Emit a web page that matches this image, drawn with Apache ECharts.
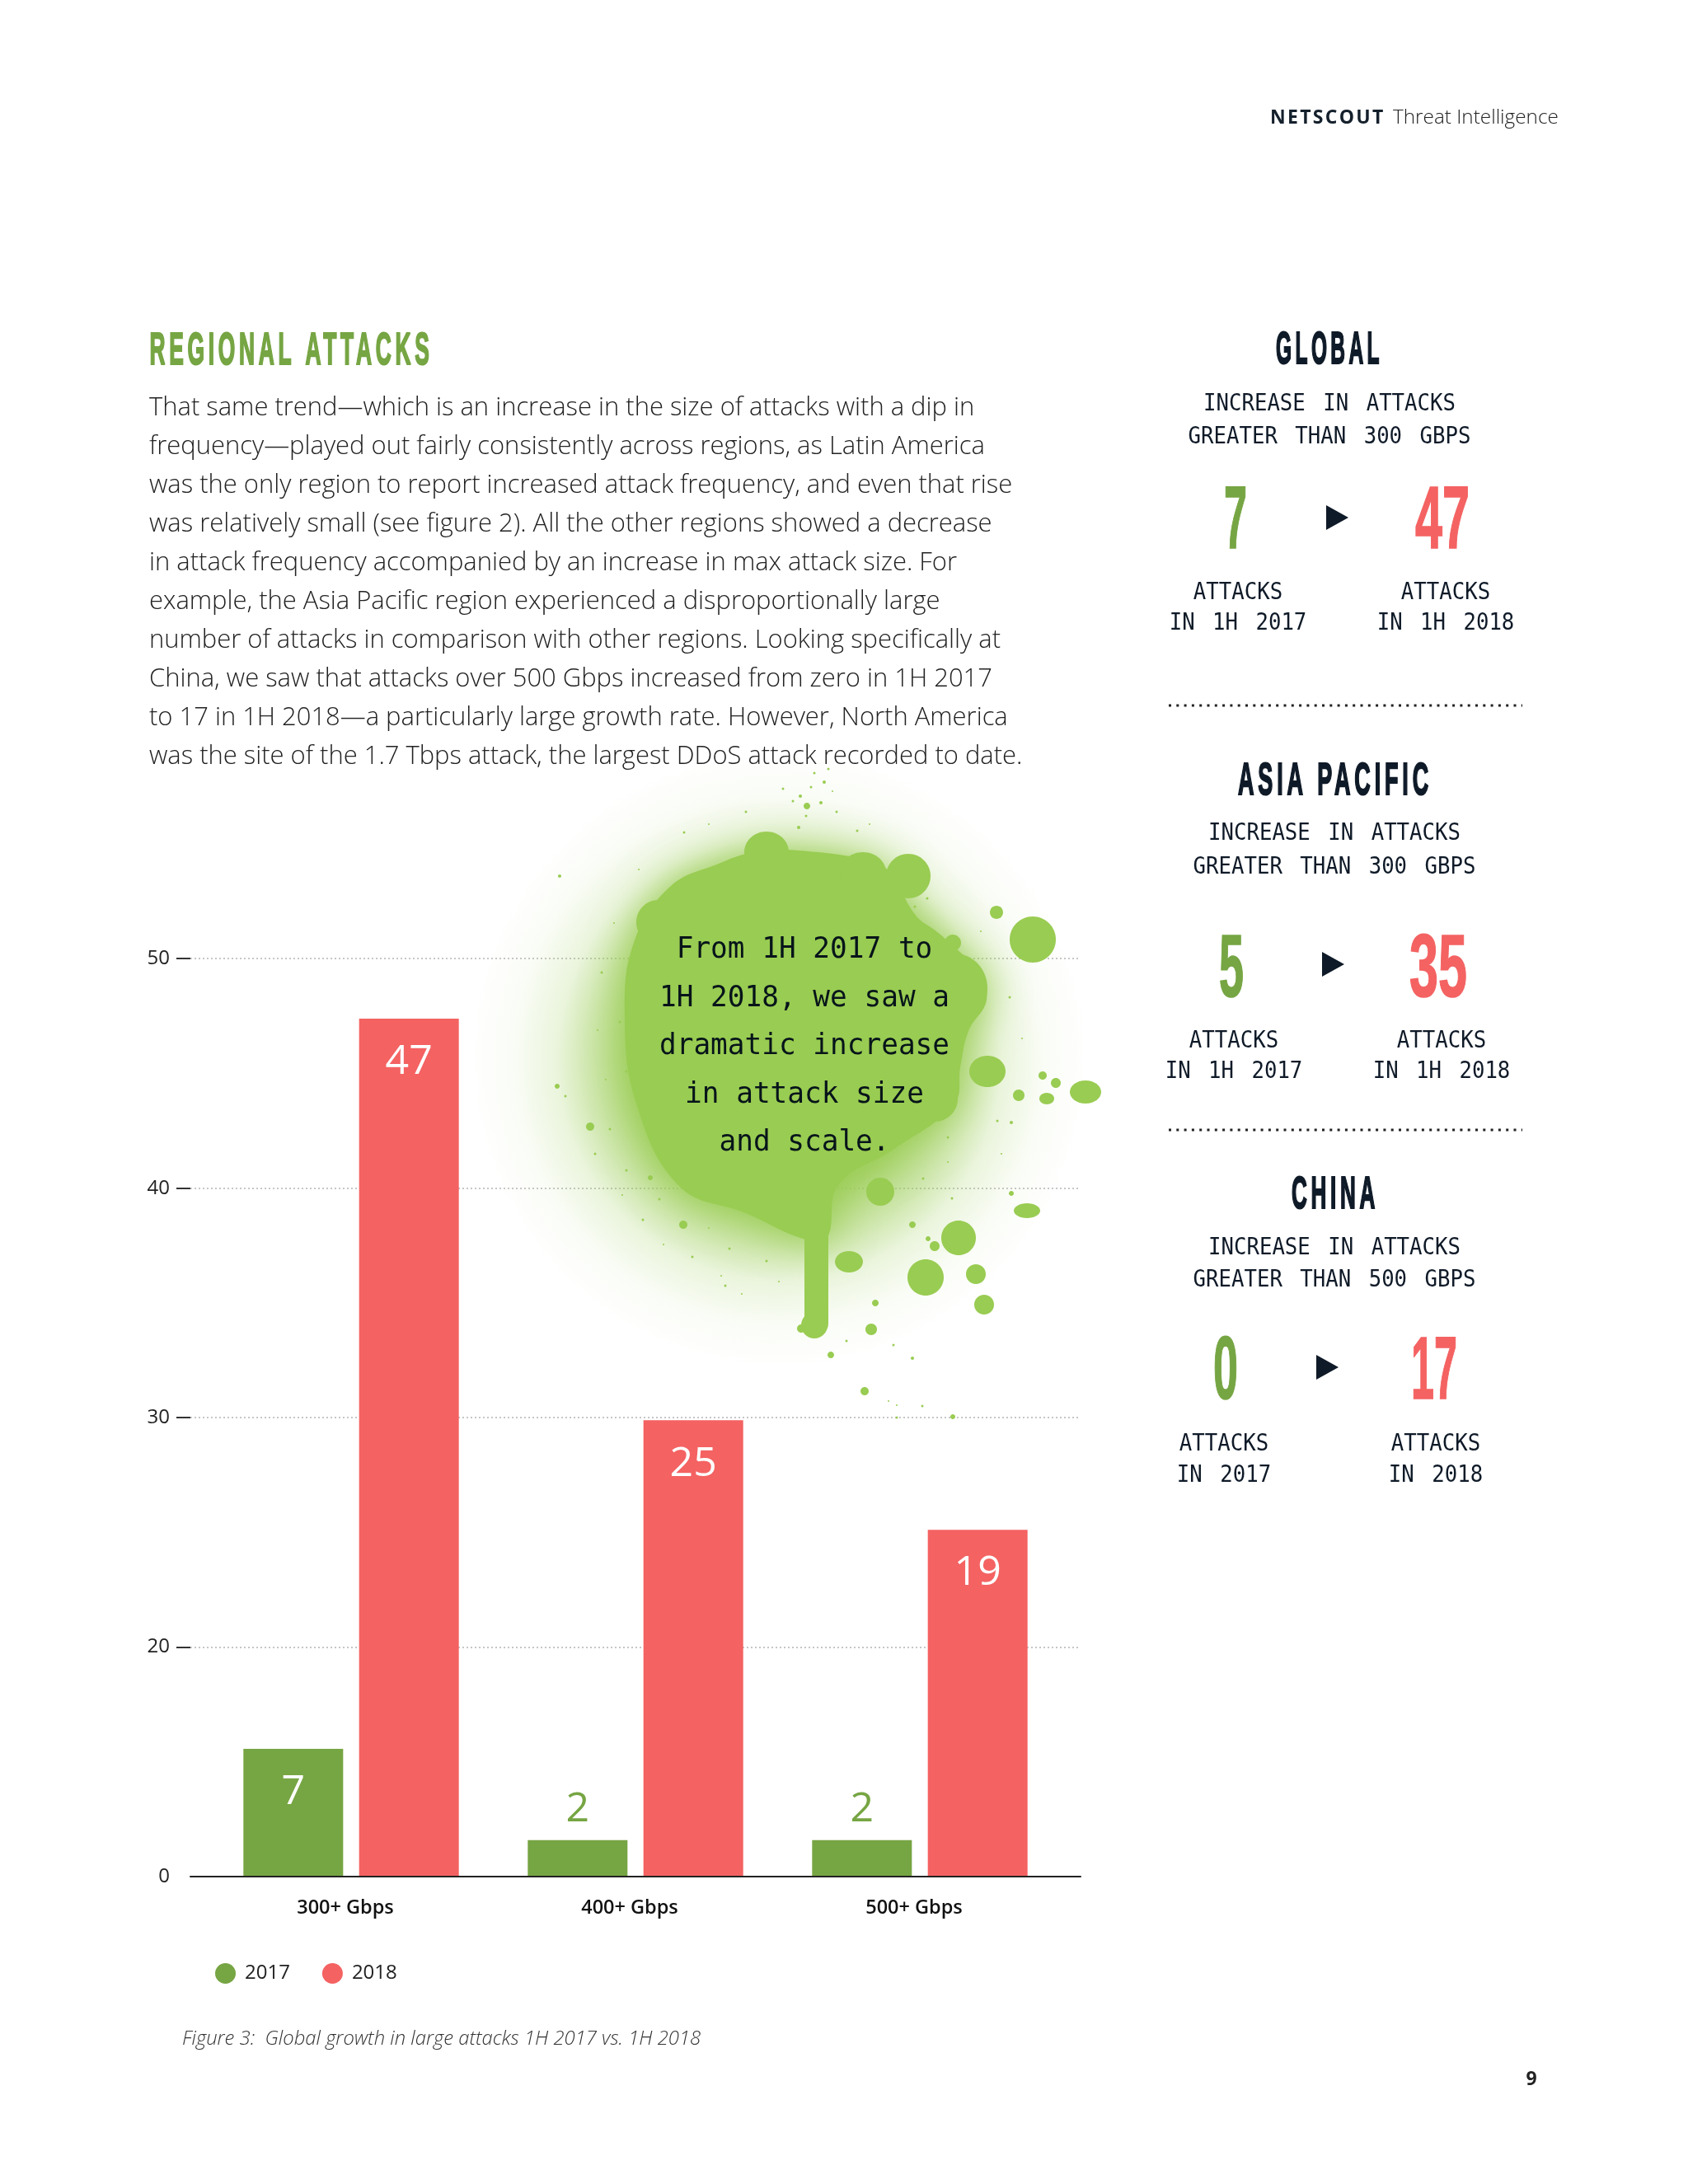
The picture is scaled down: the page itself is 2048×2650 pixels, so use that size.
<!DOCTYPE html>
<html>
<head>
<meta charset="utf-8">
<style>html,body{margin:0;padding:0;background:#fff}#c{width:2048px;height:2650px}</style>
<script src="https://cdn.jsdelivr.net/npm/echarts@6/dist/echarts.min.js"></script>
</head>
<body>
<div id="c"></div>
<script>
const categories = ['300+ Gbps', '400+ Gbps', '500+ Gbps'];
const values2017 = [7, 2, 2];
const values2018 = [47, 25, 19];
const tickLabels = ['0', '20', '30', '40', '50'];
const tickPositions = [0, 12.57, 25.14, 37.71, 50.3];

const GREEN = '#76A543', RED = '#F46262', DARK = '#0F1A28', SPRAY = '#99CC52';

const bodyLines = [
  'That same trend—which is an increase in the size of attacks with a dip in',
  'frequency—played out fairly consistently across regions, as Latin America',
  'was the only region to report increased attack frequency, and even that rise',
  'was relatively small (see figure 2). All the other regions showed a decrease',
  'in attack frequency accompanied by an increase in max attack size. For',
  'example, the Asia Pacific region experienced a disproportionally large',
  'number of attacks in comparison with other regions. Looking specifically at',
  'China, we saw that attacks over 500 Gbps increased from zero in 1H 2017',
  'to 17 in 1H 2018—a particularly large growth rate. However, North America',
  'was the site of the 1.7 Tbps attack, the largest DDoS attack recorded to date.'
];
const calloutLines = ['From 1H 2017 to', '1H 2018, we saw a', 'dramatic increase', 'in attack size', 'and scale.'];

// decorative spray paint: outline and drops
const sprayOutline = [[911,1035],[969,1032],[1066,1048],[1085,1068],[1112,1112],[1136,1130],[1168,1158],[1187,1174],[1197,1213],[1175,1251],[1165,1295],[1158,1339],[1085,1394],[1017,1438],[1003,1503],[974,1503],[905,1472],[825,1440],[772,1339],[758,1229],[770,1141],[814,1075],[872,1048]];
const sprayDrops = [[930,1034,27,25],[1047,1059,28,25],[1102,1063,27,27],[799,1119,27,27],[1253,1140,28,28],[1209,1107,8,8],[1158,1199,40,42],[1156,1144,10,10],[1134,1333,28,28],[1198,1300,22,19],[1317,1325,19,14],[1236,1329,7,7],[1270,1333,9,7],[1281,1314,6,6],[1265,1305,5,5],[1068,1446,17,17],[1246,1469,16,9],[1227,1448,3,3],[1163,1502,21,21],[1134,1512,6,6],[1126,1503,3,3],[1107,1486,4,4],[1030,1531,17,13],[1123,1550,22,22],[1184,1546,12,12],[1194,1583,12,12],[1062,1581,4,4],[1057,1613,7,7],[1049,1688,5,5],[1156,1719,3,3],[1008,1644,4,4],[1107,1648,2,2],[988,1608,16,16],[972,1612,5,5],[716,1367,5,5],[676,1318,3,3],[679,1063,2,2],[829,1486,5,5],[789,1429,3,3],[979,978,4,4]];
const spraySpecks = [[971,966,2],[984,955,1.5],[1000,949,2],[950,957,1.5],[996,974,2],[1005,933,1.5],[1015,985,1.5],[969,1004,2],[988,938,1.5],[962,972,1.5],[978,990,1.5],[1010,960,1],[1040,1008,1.5],[1055,1000,1],[1110,1100,1.5],[1210,1360,1.5],[1227,1362,2],[1150,1380,1.5],[1155,1454,1.5],[880,1560,1.5],[875,1548,1],[900,1570,1],[740,1370,1.5],[686,1330,1.5],[725,1250,1],[760,1300,1.5],[1027,1627,1.5],[1084,1632,1.5],[1078,1700,1],[1119,1706,1.5],[1088,1705,1],[1088,1720,1.5],[730,1180,1.5],[745,1120,1],[752,1240,1.5],[735,1310,1],[722,1400,1.5],[760,1420,1.5],[780,1480,1.5],[805,1510,1],[840,1525,1.5],[860,1490,1],[885,1515,1.5],[930,1530,1.5],[945,1555,1],[800,1455,1.5],[755,1450,1],[775,1055,1],[830,1010,1.5],[860,1000,1],[905,985,1.5],[1125,1090,1.5],[1190,1130,1],[1225,1210,1.5],[1240,1260,1],[1215,1400,1],[1120,1430,1.5],[1150,1410,1]];

const rightPanels = [
  {title:'GLOBAL', tx:1613, ty:422, tw:130, l1:'INCREASE IN ATTACKS', l2:'GREATER THAN 300 GBPS', lx:1613, ly1:488, ly2:528,
   a:'7', ax:1499, aw:28, b:'47', bx:1750, bw:66, ny:629, tri:[1609,1636,628],
   c1:'ATTACKS', c2:'IN 1H 2017', cx:1502, d1:'ATTACKS', d2:'IN 1H 2018', dx:1754, cy1:717, cy2:754},
  {title:'ASIA PACIFIC', tx:1620, ty:945, tw:236, l1:'INCREASE IN ATTACKS', l2:'GREATER THAN 300 GBPS', lx:1619, ly1:1009, ly2:1050,
   a:'5', ax:1494, aw:30, b:'35', bx:1745, bw:70, ny:1173, tri:[1604,1631,1170],
   c1:'ATTACKS', c2:'IN 1H 2017', cx:1497, d1:'ATTACKS', d2:'IN 1H 2018', dx:1749, cy1:1261, cy2:1298},
  {title:'CHINA', tx:1620, ty:1447, tw:106, l1:'INCREASE IN ATTACKS', l2:'GREATER THAN 500 GBPS', lx:1619, ly1:1512, ly2:1551,
   a:'0', ax:1487, aw:30, b:'17', bx:1740, bw:56, ny:1661, tri:[1597,1624,1659],
   c1:'ATTACKS', c2:'IN 2017', cx:1485, d1:'ATTACKS', d2:'IN 2018', dx:1742, cy1:1750, cy2:1788}
];

const measure = document.createElement('canvas').getContext('2d');
const TRACK = 18;
const LAYER_TRACKED = 2, LAYER_LOGO = 3, LAYER_MONO = 4;
function condensed(text, cx, cy, width, capH, fill, tracked) {
  const font = 'bold 100px "Liberation Sans Narrow", "Liberation Sans", sans-serif';
  measure.font = font;
  const w = measure.measureText(text).width + (tracked ? TRACK * text.length : 0);
  const el = {type:'text', x:cx, y:cy + 4, z:10, scaleX:width/w, scaleY:capH/72,
    style:{text, font, fill, stroke:fill, lineWidth:tracked ? 4 : 1.5, textAlign:'center', textVerticalAlign:'middle'}};
  if (tracked) el.zlevel = LAYER_TRACKED;
  return el;
}
function txt(text, x, y, font, fill, align, zlevel, sy) {
  const el = {type:'text', x, y, z:10, style:{text, font, fill, textAlign:align||'left', textVerticalAlign:'middle'}};
  if (zlevel) el.zlevel = zlevel;
  if (sy) el.scaleY = sy;
  return el;
}
const MONO = '25.7px "DejaVu Sans Mono", monospace';
const mono = (t, x, y) => txt(t, x, y, MONO, DARK, 'center', LAYER_MONO, 1.12);

const graphics = [];
// header, page number, caption
graphics.push(txt('NETSCOUT', 1541, 143.5, 'bold 23px "Open Sans"', '#14202c', 'left', LAYER_LOGO));
graphics.push(txt('Threat Intelligence', 1690, 143.5, '300 24.3px "Open Sans"', '#222'));
graphics.push(txt('9', 1858, 2523, 'bold 23px "Open Sans"', '#222', 'center'));
graphics.push(txt('Figure 3:  Global growth in large attacks 1H 2017 vs. 1H 2018', 221, 2474, 'italic 300 23.85px "Open Sans"', '#333'));
// heading and body
graphics.push(condensed('REGIONAL ATTACKS', 353.5, 422.5, 344, 40, GREEN, true));
bodyLines.forEach((l, i) => graphics.push(txt(l, 181, 495.5 + i * 46.95, '300 30.95px "Open Sans"', '#222')));
// spray
graphics.push({type:'ellipse', z:1, shape:{cx:945, cy:1285, rx:375, ry:395}, style:{fill:new echarts.graphic.RadialGradient(0.5,0.5,0.5,[
  {offset:0, color:'rgba(153,204,82,1)'},{offset:0.45, color:'rgba(153,204,82,0.85)'},{offset:0.6, color:'rgba(153,204,82,0.5)'},
  {offset:0.72, color:'rgba(153,204,82,0.2)'},{offset:0.86, color:'rgba(153,204,82,0.05)'},{offset:1, color:'rgba(153,204,82,0)'}])}});
graphics.push({type:'polygon', z:1, shape:{points:sprayOutline, smooth:0.4}, style:{fill:SPRAY, shadowBlur:50, shadowColor:SPRAY}});
graphics.push({type:'rect', z:1, shape:{x:976, y:1470, width:29, height:150, r:14}, style:{fill:SPRAY}});
sprayDrops.forEach(d => graphics.push({type:'ellipse', z:1, shape:{cx:d[0], cy:d[1], rx:d[2], ry:d[3]}, style:{fill:SPRAY}}));
spraySpecks.forEach(d => graphics.push({type:'circle', z:1, shape:{cx:d[0], cy:d[1], r:d[2]}, style:{fill:SPRAY}}));
calloutLines.forEach((l, i) => graphics.push(txt(l, 976, 1153 + i * 58.4, '34.4px "DejaVu Sans Mono", monospace', '#06141a', 'center', 0, 1.05)));
// right column
rightPanels.forEach(p => {
  graphics.push(condensed(p.title, p.tx, p.ty, p.tw, 40, DARK, true));
  graphics.push(mono(p.l1, p.lx, p.ly1 + 3));
  graphics.push(mono(p.l2, p.lx, p.ly2 + 3));
  graphics.push(condensed(p.a, p.ax, p.ny + 2, p.aw, 78, GREEN));
  graphics.push(condensed(p.b, p.bx, p.ny + 2, p.bw, 78, RED));
  graphics.push({type:'polygon', z:10, shape:{points:[[p.tri[0],p.tri[2]-15],[p.tri[1],p.tri[2]],[p.tri[0],p.tri[2]+15]]}, style:{fill:DARK}});
  graphics.push(mono(p.c1, p.cx, p.cy1 + 3));
  graphics.push(mono(p.c2, p.cx, p.cy2 + 3));
  graphics.push(mono(p.d1, p.dx, p.cy1 + 3));
  graphics.push(mono(p.d2, p.dx, p.cy2 + 3));
});
[856, 1371].forEach(y => graphics.push({type:'line', z:10, shape:{x1:1418, y1:y, x2:1847, y2:y}, style:{stroke:'#222', lineWidth:3, lineDash:[3,6.3]}}));

function barData(values, fill) {
  return values.map(v => ({
    value: v,
    itemStyle: {color: fill},
    label: v < 5
      ? {show:true, position:'top', distance:12, color:GREEN, fontSize:50, fontFamily:'Open Sans', fontWeight:400}
      : {show:true, position:'insideTop', distance:28, color:'#fff', fontSize:50, fontFamily:'Open Sans', fontWeight:400}
  }));
}

const chart = echarts.init(document.getElementById('c'), null, {width:2048, height:2650});
chart.setOption({
  backgroundColor:'#fff',
  animation:false,
  graphic:{elements:graphics},
  legend:{left:256, top:2377, itemWidth:25, itemHeight:25, itemGap:39, icon:'circle', data:['2017','2018'],
    textStyle:{fontFamily:'Open Sans', fontSize:24, color:'#222', padding:[0,0,0,6]}},
  grid:[
    {left:231, width:1080, top:1163, height:1114},
    {left:253.5, width:1035, top:1163, height:1114}
  ],
  xAxis:[
    {gridIndex:0, type:'category', data:categories, axisLabel:{show:false}, axisTick:{show:false},
     axisLine:{lineStyle:{color:'#222', width:2}}, z:5},
    {gridIndex:1, type:'category', data:categories, axisTick:{show:false}, axisLine:{show:false},
     axisLabel:{fontFamily:'Open Sans', fontWeight:600, fontSize:23.5, color:'#111', margin:26, padding:[0,14,0,0]}}
  ],
  yAxis:[
    {gridIndex:0, type:'value', min:0, max:50.3,
     axisLine:{show:false},
     axisTick:{show:true, length:17, customValues:tickPositions.slice(1), lineStyle:{color:'#333', width:2}},
     splitLine:{show:true, lineStyle:{color:'#c6c6c6', width:2, type:[2,3]}},
     axisLabel:{customValues:tickPositions, margin:25, fontFamily:'Open Sans', fontSize:24, color:'#222',
       formatter:v => tickLabels[tickPositions.indexOf(v)]}},
    {gridIndex:1, type:'value', min:0, max:50.3, show:false}
  ],
  series:[
    {name:'2017', type:'bar', xAxisIndex:1, yAxisIndex:1, barWidth:121, barGap:'16%', itemStyle:{color:GREEN}, data:barData(values2017, GREEN)},
    {name:'2018', type:'bar', xAxisIndex:1, yAxisIndex:1, barWidth:121, barGap:'16%', itemStyle:{color:RED}, data:barData(values2018, RED)}
  ]
});
// headings, the logo word and the mono text sit on their own canvas layers so they can be spaced
try {
  const zr = chart.getZr();
  const setLayer = (level, letter, word) => {
    const ctx = zr.painter.getLayer(level).ctx;
    if (letter) ctx.letterSpacing = letter + 'px';
    if (word) ctx.wordSpacing = word + 'px';
  };
  setLayer(LAYER_TRACKED, TRACK, 0);
  setLayer(LAYER_LOGO, 2.3, 0);
  setLayer(LAYER_MONO, 0, 6);
  zr.painter.refresh(true);
} catch (e) {}
</script>
</body>
</html>
